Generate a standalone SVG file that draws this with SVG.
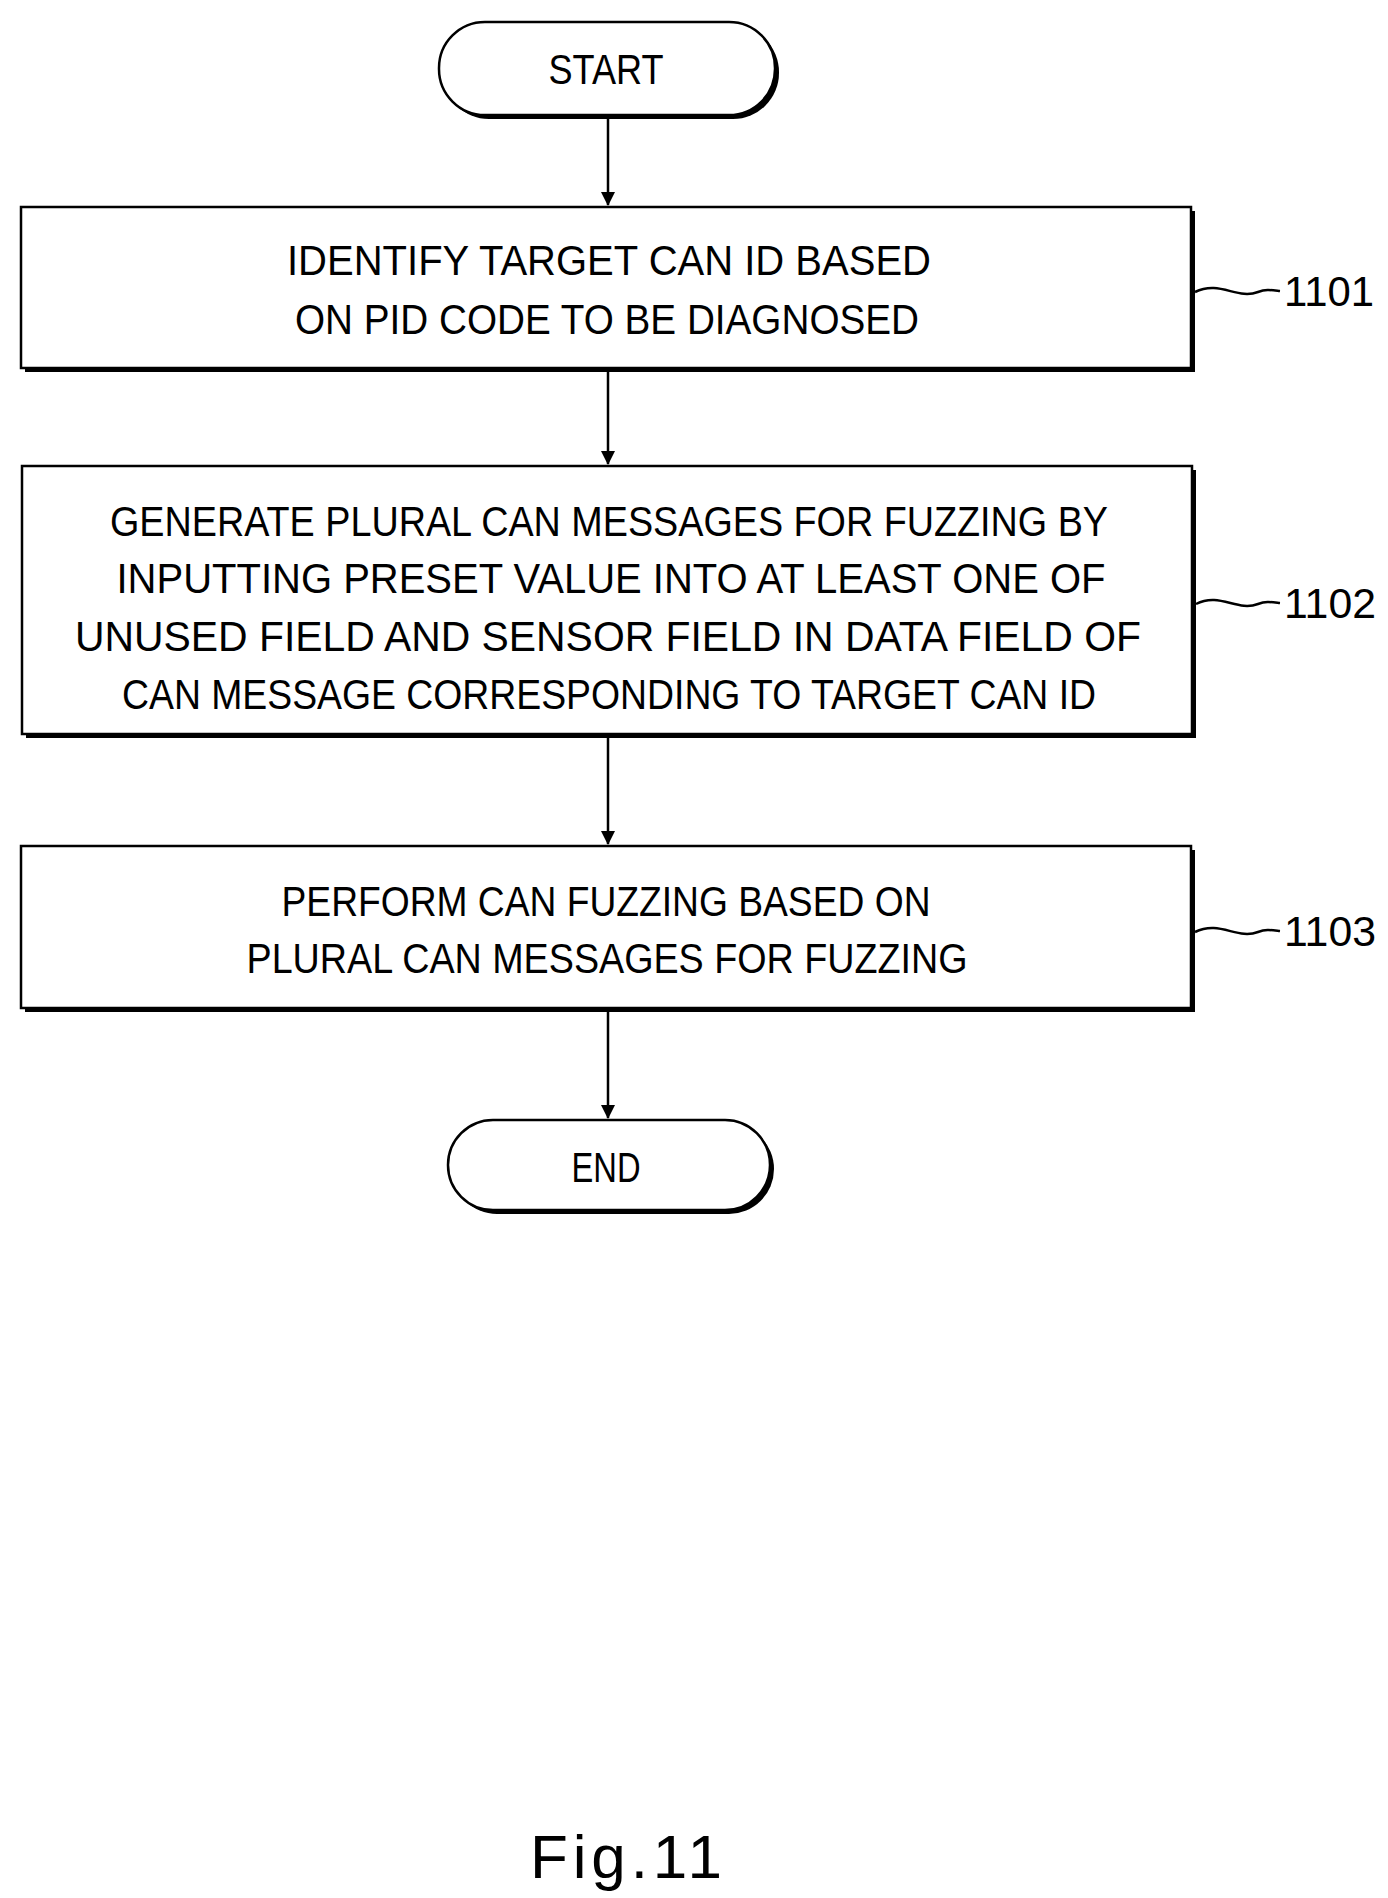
<svg xmlns="http://www.w3.org/2000/svg" width="1388" height="1898" viewBox="0 0 1388 1898">
<defs>
<marker id="ah" markerWidth="14" markerHeight="26" refX="13" refY="13" orient="auto" markerUnits="userSpaceOnUse"><path d="M0,6 L14,13 L0,20 Z" fill="#000"/></marker>
</defs>
<style>
.t{font-family:"Liberation Sans",Arial,sans-serif;font-size:42px;fill:#000;text-anchor:middle}
.l{font-family:"Liberation Sans",Arial,sans-serif;font-size:42px;fill:#000}
.sh{fill:#000}
.bx{fill:#fff;stroke:#000;stroke-width:2.5}
.c{stroke:#000;stroke-width:2.5;fill:none}
</style>
<rect width="1388" height="1898" fill="#fff"/>
<g id="start">
<rect class="sh" x="443" y="26" width="336" height="93" rx="46"/>
<rect class="bx" x="439" y="22" width="336" height="93" rx="46"/>
<text class="t" x="606" y="84" textLength="115" lengthAdjust="spacingAndGlyphs">START</text>
</g>
<g id="n1101">
<rect class="sh" x="25" y="211" width="1170" height="161"/>
<rect class="bx" x="21" y="207" width="1170" height="161"/>
<text class="t" x="609" y="275" textLength="644" lengthAdjust="spacingAndGlyphs">IDENTIFY TARGET CAN ID BASED</text>
<text class="t" x="607" y="334" textLength="624" lengthAdjust="spacingAndGlyphs">ON PID CODE TO BE DIAGNOSED</text>
</g>
<g id="n1102">
<rect class="sh" x="26" y="470" width="1170" height="268"/>
<rect class="bx" x="22" y="466" width="1170" height="268"/>
<text class="t" x="609" y="536" textLength="998" lengthAdjust="spacingAndGlyphs">GENERATE PLURAL CAN MESSAGES FOR FUZZING BY</text>
<text class="t" x="611" y="593" textLength="989" lengthAdjust="spacingAndGlyphs">INPUTTING PRESET VALUE INTO AT LEAST ONE OF</text>
<text class="t" x="608" y="651" textLength="1066" lengthAdjust="spacingAndGlyphs">UNUSED FIELD AND SENSOR FIELD IN DATA FIELD OF</text>
<text class="t" x="609" y="709" textLength="974" lengthAdjust="spacingAndGlyphs">CAN MESSAGE CORRESPONDING TO TARGET CAN ID</text>
</g>
<g id="n1103">
<rect class="sh" x="25" y="850" width="1170" height="162"/>
<rect class="bx" x="21" y="846" width="1170" height="162"/>
<text class="t" x="606" y="916" textLength="649" lengthAdjust="spacingAndGlyphs">PERFORM CAN FUZZING BASED ON</text>
<text class="t" x="607" y="973" textLength="721" lengthAdjust="spacingAndGlyphs">PLURAL CAN MESSAGES FOR FUZZING</text>
</g>
<g id="end">
<rect class="sh" x="452" y="1124" width="322" height="90" rx="45"/>
<rect class="bx" x="448" y="1120" width="322" height="90" rx="45"/>
<text class="t" x="606" y="1182" textLength="69" lengthAdjust="spacingAndGlyphs">END</text>
</g>
<g id="connectors">
<line class="c" x1="608" y1="118" x2="608" y2="205" marker-end="url(#ah)"/>
<line class="c" x1="608" y1="371" x2="608" y2="464" marker-end="url(#ah)"/>
<line class="c" x1="608" y1="737" x2="608" y2="844" marker-end="url(#ah)"/>
<line class="c" x1="608" y1="1011" x2="608" y2="1118" marker-end="url(#ah)"/>
<path class="c" d="M1195,292 C1220,280 1237,300 1258,292 C1266,289 1271,290 1280,291"/>
<path class="c" d="M1196,604 C1220,592 1237,612 1258,604 C1266,601 1271,602 1280,603"/>
<path class="c" d="M1195,932 C1220,920 1237,940 1258,932 C1266,929 1271,930 1280,931"/>
</g>
<text class="l" x="1284" y="306" textLength="90" lengthAdjust="spacingAndGlyphs">1101</text>
<text class="l" x="1284" y="618" textLength="92" lengthAdjust="spacingAndGlyphs">1102</text>
<text class="l" x="1284" y="946" textLength="92" lengthAdjust="spacingAndGlyphs">1103</text>
<text x="626" y="1878" style="font-family:'Liberation Sans',Arial,sans-serif;font-size:62px;text-anchor:middle" textLength="192" lengthAdjust="spacing">Fig.11</text>
</svg>
